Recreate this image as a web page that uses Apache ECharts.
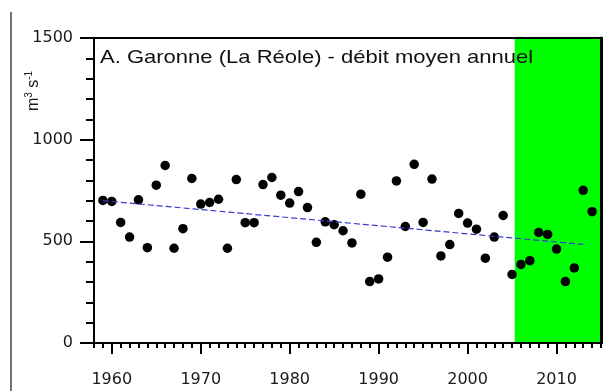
<!DOCTYPE html>
<html>
<head>
<meta charset="utf-8">
<script src="https://cdn.jsdelivr.net/npm/echarts@6/dist/echarts.min.js"></script>
<style>
html,body{margin:0;padding:0;background:#fff;}
#c{width:611px;height:391px;}
</style>
</head>
<body>
<div id="c"></div>
<script>
var years = [1959,1960,1961,1962,1963,1964,1965,1966,1967,1968,1969,1970,1971,1972,1973,1974,1975,1976,1977,1978,1979,1980,1981,1982,1983,1984,1985,1986,1987,1988,1989,1990,1991,1992,1993,1994,1995,1996,1997,1998,1999,2000,2001,2002,2003,2004,2005,2006,2007,2008,2009,2010,2011,2012,2013,2014];
var flows = [701,696,593,521,704,469,776,873,466,562,809,683,691,707,466,804,592,592,779,814,727,688,745,666,495,596,582,552,492,732,302,315,422,797,573,879,593,806,428,484,637,590,560,417,521,627,337,386,405,544,534,462,302,369,751,646];
var trendYears = [1959, 2013];
var trendFlows = [700, 485];
var greenPeriod = [2005.3, 2015];
var xTickLabels = [1960,1970,1980,1990,2000,2010];
var xRange = [1958, 2015];
var titleText = 'A. Garonne (La Réole) - débit moyen annuel';

var chart = echarts.init(document.getElementById('c'), null, {renderer:'canvas'});
var lblFont = 'DejaVu Sans';
function plain(v){ return String(v); }
var L = 94, R = 10, T = 38, B = 48, W = 611;
var pxPerYear = (W - L - R) / (xRange[1] - xRange[0]);
var firstDec = xTickLabels[0], lastDec = xTickLabels[xTickLabels.length - 1];
var option = {
  animation: false,
  backgroundColor: '#fff',
  grid: [
    {left: L, right: R, top: T, bottom: B, show: false},
    {left: L + (firstDec - xRange[0]) * pxPerYear, right: R + (xRange[1] - lastDec) * pxPerYear,
     top: T, bottom: B, show: false}
  ],
  xAxis: [
    {type:'value', gridIndex:0, min:xRange[0], max:xRange[1], interval:1, position:'bottom', z:10,
     axisLine:{show:true, onZero:false, lineStyle:{color:'#000', width:2}},
     axisTick:{show:true, length:5, lineStyle:{color:'#000', width:2}},
     axisLabel:{show:false},
     splitLine:{show:false}},
    {type:'value', gridIndex:0, min:xRange[0], max:xRange[1], position:'top', z:10,
     axisLine:{show:true, onZero:false, lineStyle:{color:'#000', width:2}},
     axisTick:{show:false}, axisLabel:{show:false}, splitLine:{show:false}},
    {type:'value', gridIndex:1, min:firstDec, max:lastDec, interval:10, position:'bottom', z:11,
     axisLine:{show:true, onZero:false, lineStyle:{color:'#000', width:2}},
     axisTick:{show:true, length:11, lineStyle:{color:'#000', width:2}},
     axisLabel:{show:true, formatter: plain, margin:29, fontSize:16, fontFamily:lblFont, color:'#1a1a1a'},
     splitLine:{show:false}}
  ],
  yAxis: [
    {type:'value', gridIndex:0, min:0, max:1500, interval:500, position:'left', z:10,
     axisLine:{show:true, onZero:false, lineStyle:{color:'#000', width:2}},
     axisTick:{show:true, length:14, lineStyle:{color:'#000', width:2}},
     minorTick:{show:true, splitNumber:5, length:8, lineStyle:{color:'#000', width:2}},
     axisLabel:{show:true, formatter: plain, margin:21, fontSize:16, fontFamily:lblFont, color:'#1a1a1a'},
     splitLine:{show:false}, minorSplitLine:{show:false}},
    {type:'value', gridIndex:0, min:0, max:1500, position:'right', z:10,
     axisLine:{show:true, onZero:false, lineStyle:{color:'#000', width:3}},
     axisTick:{show:false}, axisLabel:{show:false}, splitLine:{show:false}},
    {type:'value', gridIndex:1, min:0, max:1500, show:false}
  ],
  series: [
    {type:'scatter', xAxisIndex:0, yAxisIndex:0, symbol:'circle', symbolSize:9.5,
     itemStyle:{color:'#000', opacity:1}, z:3,
     data: years.map(function(y,i){return [y, flows[i]];}),
     markArea:{silent:true, itemStyle:{color:'#00ff00', opacity:1},
       data:[[{xAxis: greenPeriod[0]}, {xAxis: greenPeriod[1]}]]}},
    {type:'line', xAxisIndex:0, yAxisIndex:0, showSymbol:false, symbol:'none', z:4,
     lineStyle:{color:'#3a3acf', width:1.2, type:[6,3]},
     data: trendYears.map(function(y,i){return [y, trendFlows[i]];})}
  ],
  graphic: [
    {type:'text', x:100, y:48, z:20, scaleX:1.19,
     style:{text:titleText, font:'normal 18.5px "Liberation Sans", Arial', fill:'#111', textVerticalAlign:'top'}},
    {type:'text', x:33, y:91, rotation:Math.PI/2, z:20,
     style:{text:'{n|m}{s|3}{n| s}{s|-1}', textAlign:'center', textVerticalAlign:'middle',
       rich:{n:{fontSize:16, fontFamily:'Liberation Sans', fill:'#1a1a1a', lineHeight:18, verticalAlign:'bottom'},
             s:{fontSize:10, fontFamily:'Liberation Sans', fill:'#1a1a1a', lineHeight:10, verticalAlign:'top'}}}},
    {type:'line', z:20, shape:{x1:11, y1:12, x2:11, y2:391}, style:{stroke:'#444', lineWidth:1.5}}
  ]
};
chart.setOption(option);
</script>
</body>
</html>
